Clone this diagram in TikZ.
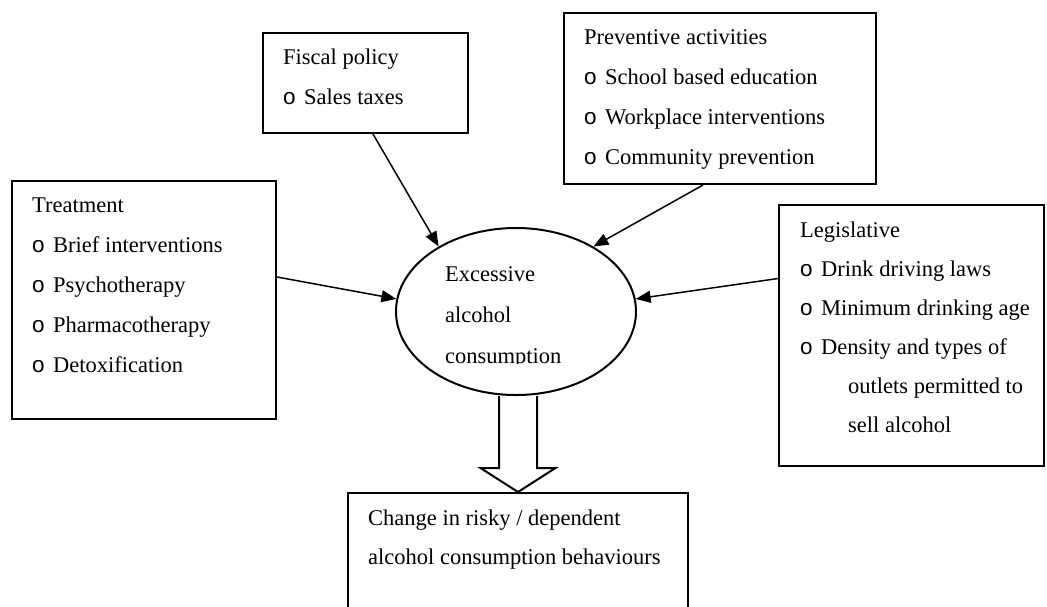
\documentclass[tikz,border=0pt]{standalone}
\usepackage{fontspec}
\setmainfont{Liberation Serif}
\newfontfamily\bulletfont{Liberation Sans}
\usetikzlibrary{arrows.meta,shapes.geometric,calc,backgrounds}

% hollow bullet and the deeper indent of wrapped items
\newcommand{\bul}{\makebox[21pt][l]{\bulletfont o}}
\newcommand{\wrapind}{\hspace*{48pt}}

\begin{document}
\begin{tikzpicture}[x=1pt,y=-1pt,
  panel/.style={draw,line width=2pt,rectangle,inner sep=0pt,anchor=north west},
  body/.style={inner sep=0pt,anchor=base west,font=\fontsize{22.5}{40}\selectfont},
  link/.style={line width=1.5pt,-{Triangle[length=15pt,width=12pt]}},
  fat/.style={line width=2pt,fill=white,line join=miter}]
\useasboundingbox (0,0) rectangle (1047,606);

% frames
\node[panel,minimum width=205pt,minimum height=100pt] (fiscal) at (262,32) {};
\node[panel,minimum width=312pt,minimum height=171pt] (prev) at (563,12) {};
\node[panel,minimum width=264pt,minimum height=238pt] (treat) at (11,180) {};
\node[panel,minimum width=265pt,minimum height=261pt] (legis) at (778,204) {};
\node[panel,minimum width=340pt,minimum height=130pt] (out) at (347,492) {};
\node[draw,ellipse,line width=2pt,inner sep=0pt,minimum width=240pt,minimum height=167pt] (ell) at (516,311.5) {};

% texts
\node[body] (fiscaltxt) at ($(fiscal.north west)+(21,32)$)
  {\begin{tabular}[t]{@{}l@{}}Fiscal policy\\ \bul Sales taxes\end{tabular}};
\node[body] (prevtxt) at ($(prev.north west)+(21,32)$)
  {\begin{tabular}[t]{@{}l@{}}Preventive activities\\ \bul School based education\\ \bul Workplace interventions\\ \bul Community prevention\end{tabular}};
\node[body] (treattxt) at ($(treat.north west)+(21,32)$)
  {\begin{tabular}[t]{@{}l@{}}Treatment\\ \bul Brief interventions\\ \bul Psychotherapy\\ \bul Pharmacotherapy\\ \bul Detoxification\end{tabular}};
\node[body,font=\fontsize{22.5}{39}\selectfont] (legistxt) at ($(legis.north west)+(22,33)$)
  {\begin{tabular}[t]{@{}l@{}}Legislative\\ \bul Drink driving laws\\ \bul Minimum drinking age\\ \bul Density and types of\\ \wrapind outlets permitted to\\ \wrapind sell alcohol\end{tabular}};
\node[body,font=\fontsize{22.5}{39}\selectfont] (outtxt) at ($(out.north west)+(21,33)$)
  {\begin{tabular}[t]{@{}l@{}}Change in risky / dependent\\ alcohol consumption behaviours\end{tabular}};
\begin{scope}
  \clip ($(ell.center)+(-90,-90)$) rectangle ($(ell.center)+(130,52)$);
  \node[body,font=\fontsize{22.5}{41}\selectfont] (elltxt) at ($(ell.center)+(-71,-30.5)$)
    {\begin{tabular}[t]{@{}l@{}}Excessive\\ alcohol\\ consumption\end{tabular}};
\end{scope}

% influences on consumption
\draw[link] ($(fiscal.south)+(7.5,0)$) -- (ell.140);
\draw[link] ($(prev.south)+(-17,0)$) -- (ell.40);
\draw[link] ($(treat.east)+(0,-23)$) -- (ell.174);
\draw[link] ($(legis.west)+(0,-57)$) -- (ell.6);

% outcome block arrow
\coordinate (sl) at ($(out.north)+(-19,0)$);
\coordinate (sr) at ($(out.north)+(19,0)$);
\begin{scope}[on background layer]
  \draw[fat] (sl |- ell.south) -- ($(sl)+(0,-24)$) -- ($(out.north)+(-37.5,-24)$)
    -- (out.north) -- ($(out.north)+(37.5,-24)$) -- ($(sr)+(0,-24)$) -- (sr |- ell.south);
\end{scope}
\end{tikzpicture}
\end{document}
